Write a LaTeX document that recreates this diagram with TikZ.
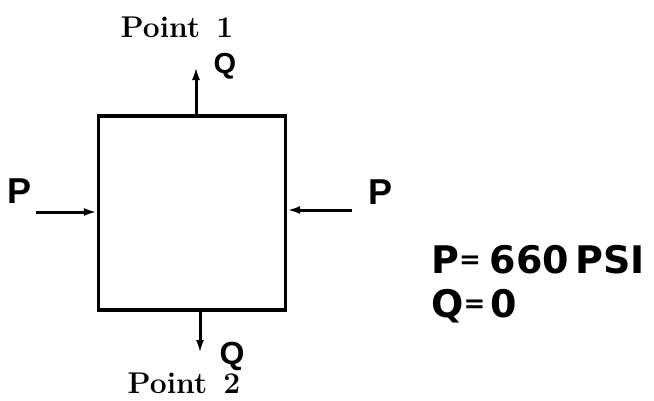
\documentclass[tikz,border=0pt]{standalone}
\usepackage{fontspec}
\newfontfamily\lettering{Liberation Sans}
\newfontfamily\wideletter{DejaVu Sans}
\usetikzlibrary{arrows.meta}
\newcommand{\smalleq}{\raisebox{5pt}{\fontsize{26}{28}\selectfont=}}
\begin{document}
\begin{tikzpicture}[x=1pt,y=-1pt,
  force/.style={-{Latex[length=13pt,width=8pt]}, line width=3pt},
  ptlabel/.style={font=\fontsize{30}{32}\selectfont\bfseries\addfontfeature{LetterSpace=4}, inner sep=0pt},
  letter/.style={font=\lettering\bfseries\fontsize{36}{40}\selectfont, inner sep=0pt},
  bigletter/.style={font=\wideletter\bfseries\fontsize{38}{44}\selectfont, inner sep=0pt}]
\useasboundingbox (0,0) rectangle (654,400);
\node[draw, line width=3.2pt, minimum width=187pt, minimum height=194pt, inner sep=0pt] (box) at (192,213) {};
% top
\coordinate (tq) at (196,67);
\draw[force] (box.north -| tq) -- (tq);
\node[letter, font=\lettering\bfseries\fontsize{29}{32}\selectfont] (q1) at (225,66) {Q};
\node[ptlabel] (p1) at (177,27) {Point\ \,1};
% bottom
\coordinate (bq) at (200,353);
\draw[force] (box.south -| bq) -- (bq);
\node[letter, font=\lettering\bfseries\fontsize{32}{34}\selectfont] (q2) at (232,356) {Q};
\node[ptlabel] (p2) at (184,383) {Point\ \,2};
% left
\coordinate (lp) at (36,212);
\draw[force] (lp) -- (box.west |- lp);
\node[letter] (pl) at (20,191) {P};
% right
\coordinate (rp) at (352,210);
\draw[force] (rp) -- (box.east |- rp);
\node[letter] (pr) at (381,192) {P};
% values
\node[bigletter, anchor=west] (pv) at (431,260) {P\smalleq\hspace{9pt}660\hspace{6pt}PSI};
\node[bigletter, anchor=west] (qv) at (431,306) {Q\smalleq\hspace{5pt}0};
\end{tikzpicture}
\end{document}
